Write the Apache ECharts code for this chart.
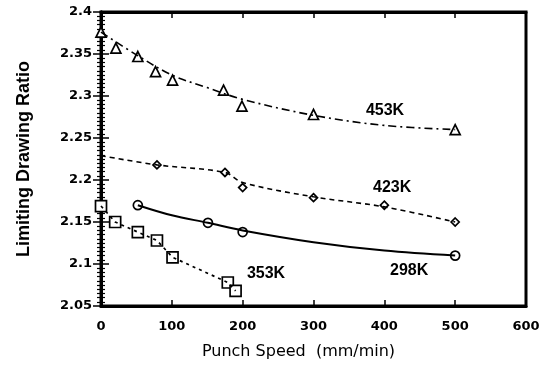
<!DOCTYPE html>
<html>
<head>
<meta charset="utf-8">
<script src="https://cdn.jsdelivr.net/npm/echarts@6/dist/echarts.min.js"></script>
<style>
  html, body {margin: 0; padding: 0; background: #fff;}
  #chart {width: 549px; height: 365px;}
</style>
</head>
<body>
<div id="chart"></div>
<script>
// measured points (mm/min, LDR)
const pts453 = [[0, 2.376], [21, 2.357], [52, 2.347], [77, 2.329], [101, 2.319], [173, 2.307], [199, 2.288], [300, 2.278], [500, 2.26]];
const pts423 = [[79, 2.218], [175, 2.209], [200, 2.191], [300, 2.179], [400, 2.17], [500, 2.15]];
const pts298 = [[52, 2.17], [151, 2.149], [200, 2.138], [500, 2.11]];
const pts353 = [[0, 2.169], [20, 2.15], [52, 2.138], [79, 2.128], [101, 2.108], [179, 2.078], [190, 2.068]];

// fitted curves
const fit453 = [[0, 2.376], [50, 2.349], [100, 2.325], [150, 2.31], [200, 2.296], [300, 2.277], [400, 2.265], [500, 2.26]];
const fit423 = [[0, 2.229], [79, 2.218], [175, 2.209], [200, 2.197], [300, 2.18], [400, 2.168], [500, 2.15]];
const fit298 = [[52, 2.17], [100, 2.158], [151, 2.149], [200, 2.14], [300, 2.126], [400, 2.116], [500, 2.11]];
const fit353 = [[0, 2.169], [20, 2.15], [52, 2.138], [79, 2.128], [101, 2.108], [179, 2.078], [190, 2.068]];

const seriesLabels = [
  {name: '453K', value: [401, 2.283]},
  {name: '423K', value: [411, 2.191]},
  {name: '298K', value: [435, 2.092]},
  {name: '353K', value: [233, 2.088]}
];

const xTicks = {min: 0, max: 600, interval: 100};
const yTicks = {min: 2.05, max: 2.4, interval: 0.05};

const chart = echarts.init(document.getElementById('chart'));

const tickFont = {fontFamily: 'DejaVu Sans', fontWeight: 'bold', fontSize: 13, color: '#000'};

function curve(data, type, width) {
  return {
    type: 'line', data: data, smooth: 0.35, symbol: 'none', silent: true,
    lineStyle: {color: '#000', width: width, type: type}
  };
}
function marks(data, symbol, size) {
  return {
    type: 'scatter', data: data, symbol: symbol, symbolSize: size, silent: true,
    itemStyle: {color: '#fff', borderColor: '#000', borderWidth: 1.7, opacity: 1}
  };
}

chart.setOption({
  animation: false,
  backgroundColor: '#fff',
  grid: {left: 101, right: 23, top: 12, bottom: 57, show: true, borderColor: '#000', borderWidth: 3, backgroundColor: 'transparent'},
  xAxis: [{
    type: 'value', min: xTicks.min, max: xTicks.max, interval: xTicks.interval,
    name: 'Punch Speed  (mm/min)', nameLocation: 'middle', nameGap: 38,
    nameTextStyle: {fontFamily: 'DejaVu Sans', fontSize: 16, color: '#000', padding: [0, 30, 0, 0]},
    axisLine: {show: true, lineStyle: {color: '#000', width: 3}},
    axisTick: {show: true, inside: true, length: 6, lineStyle: {color: '#000', width: 1.5}},
    axisLabel: Object.assign({margin: 14}, tickFont),
    splitLine: {show: false}
  }, {
    type: 'value', position: 'top', min: xTicks.min, max: xTicks.max, interval: xTicks.interval,
    axisLine: {show: true, lineStyle: {color: '#000', width: 3}},
    axisTick: {show: true, inside: true, length: 6, lineStyle: {color: '#000', width: 1.5}},
    axisLabel: {show: false}, splitLine: {show: false}
  }],
  yAxis: [{
    type: 'value', min: yTicks.min, max: yTicks.max, interval: yTicks.interval,
    name: 'Limiting Drawing Ratio', nameLocation: 'middle', nameGap: 68,
    nameTextStyle: {fontFamily: 'Liberation Sans', fontWeight: 'bold', fontSize: 18, color: '#000'},
    axisLine: {show: true, lineStyle: {color: '#000', width: 3}},
    axisTick: {show: true, inside: true, length: 8, lineStyle: {color: '#000', width: 1.5}},
    minorTick: {show: true, splitNumber: 10, length: 4, lineStyle: {color: '#000', width: 1.2}},
    axisLabel: Object.assign({margin: 9, formatter: v => String(parseFloat(v.toFixed(2)))}, tickFont),
    splitLine: {show: false}
  }, {
    type: 'value', position: 'right', min: yTicks.min, max: yTicks.max, interval: yTicks.interval,
    axisLine: {show: true, lineStyle: {color: '#000', width: 3}},
    axisTick: {show: true, inside: true, length: 8, lineStyle: {color: '#000', width: 1.5}},
    minorTick: {show: true, splitNumber: 10, length: 4, lineStyle: {color: '#000', width: 1.2}},
    axisLabel: {show: false}, splitLine: {show: false}
  }],
  series: [
    curve(fit453, [8, 4, 2, 4], 1.6),
    curve(fit423, [5, 4], 1.6),
    curve(fit298, 'solid', 2),
    Object.assign(curve(fit353, [3, 4], 1.7), {smooth: false}),
    marks(pts453, 'triangle', 10),
    marks(pts423, 'diamond', 8),
    marks(pts298, 'circle', 9),
    marks(pts353, 'rect', 11),
    {
      type: 'scatter', data: seriesLabels, symbolSize: 0, silent: true,
      itemStyle: {opacity: 1},
      label: {
        show: true, position: 'inside', formatter: p => p.name,
        fontFamily: 'Liberation Sans', fontWeight: 'bold', fontSize: 16, color: '#000'
      }
    }
  ]
});
</script>
</body>
</html>
